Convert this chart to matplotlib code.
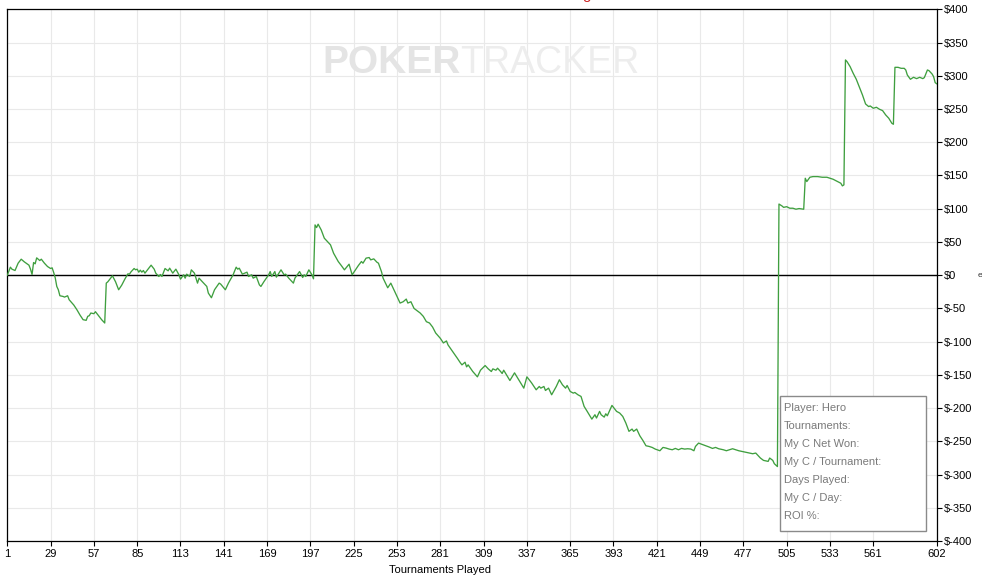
import matplotlib
matplotlib.use("Agg")
import matplotlib.pyplot as plt
from matplotlib.patches import Rectangle

# ---------------- data ----------------
tournaments = [1, 3, 4, 6, 8, 10, 12, 15, 16, 17, 18, 19, 20, 22, 23, 25, 27, 29, 30, 31,
               32, 33, 34, 35, 37, 38, 40, 41, 44, 46, 48, 50, 52, 53, 54, 55, 57, 58, 60, 62,
               64, 65, 66, 69, 71, 73, 75, 77, 79, 80, 81, 83, 84, 85, 86, 87, 88, 89, 90, 92,
               94, 96, 97, 99, 100, 101, 103, 105, 106, 108, 110, 112, 113, 115, 116, 117, 119, 120, 122, 124,
               125, 127, 130, 131, 133, 135, 138, 139, 142, 144, 147, 149, 150, 151, 153, 156, 157, 159, 160, 162,
               164, 165, 167, 170, 171, 172, 174, 175, 178, 180, 181, 183, 186, 187, 190, 192, 193, 194, 196, 198,
               199, 200, 201, 202, 204, 206, 208, 210, 212, 215, 217, 219, 222, 224, 228, 230, 231, 233, 235, 236,
               238, 240, 241, 243, 244, 247, 249, 252, 255, 257, 259, 260, 262, 264, 268, 270, 272, 274, 276, 278,
               281, 283, 285, 286, 289, 292, 294, 295, 297, 298, 299, 302, 305, 307, 310, 312, 314, 315, 317, 318,
               320, 321, 322, 326, 329, 332, 335, 337, 340, 343, 345, 346, 348, 349, 351, 353, 356, 358, 360, 362,
               363, 365, 367, 368, 370, 372, 374, 376, 379, 381, 382, 384, 385, 387, 388, 389, 392, 393, 395, 397,
               398, 399, 401, 403, 405, 406, 408, 410, 412, 414, 416, 418, 420, 423, 425, 427, 429, 431, 433, 435,
               437, 439, 441, 443, 445, 446, 448, 451, 453, 455, 457, 459, 461, 464, 466, 468, 470, 472, 474, 476,
               479, 481, 483, 485, 486, 488, 490, 493, 494, 496, 497, 499, 500, 502, 503, 505, 507, 509, 511, 513,
               516, 517, 518, 520, 522, 525, 528, 531, 535, 538, 540, 541, 542, 543, 544, 546, 548, 550, 552, 554,
               556, 558, 559, 561, 563, 565, 567, 569, 571, 573, 574, 575, 577, 579, 581, 582, 583, 585, 587, 589,
               591, 593, 594, 596, 597, 599, 600, 601, 602]
net_won = [0, 12, 9, 7, 18, 24, 20, 15, 9, 1, 19, 17, 26, 22, 24, 18, 13, 10, 11, 4,
           -4, -17, -22, -31, -32, -33, -31, -37, -45, -52, -60, -67, -68, -62, -61, -57, -58, -55, -61, -67,
           -72, -12, -10, -1, -10, -22, -15, -6, 2, 1.5, 5, 10, 8, 9, 4.5, 7.5, 4.5, 7, 3, 9,
           15, 9, 3, -2, 1, -2, 10, 6.5, 10.5, 3, 9, 0.5, -6, 0.5, -4.5, 1.5, -2, 8, 3, -12,
           -4.5, -9.6, -17, -27, -34, -22, -12, -13.5, -22, -12, 0.5, 12, 9, 10.5, 1.5, 4.5, -2, 0.5, -4.5, -2,
           -14.6, -17, -9.6, 0.5, 5.4, -2, 5.4, -3, 8, 0.5, 1.5, -4.5, -12, -4.5, 5.4, -3.5, 0.5, -2, 8, 0.5,
           -5.5, 75.6, 71.6, 76.7, 68, 55.6, 50.5, 45.6, 33, 20.5, 14.4, 8, 16.5, 0.5, 14.4, 20.5, 18, 25.6, 26.5, 23,
           24.5, 19.5, 18, 5, -4.5, -19, -12, -27, -42, -40, -36, -42, -40, -50, -57, -62, -70, -72, -78, -87,
           -95, -102, -99, -105, -115, -125, -132, -135, -131, -138, -135, -145, -153, -143, -136, -141, -145, -141, -143, -140,
           -145, -148, -143, -158.5, -147, -158.5, -170, -153, -162, -172.5, -167.5, -170, -167.5, -173.5, -170, -180, -167.5, -157.4, -165, -170,
           -166, -175, -177.5, -176.5, -180, -182.5, -197.5, -205, -216.6, -210, -215, -205, -210, -213.6, -208.6, -211.6, -196, -199, -205, -207.5,
           -210, -212.6, -222.6, -235, -231.6, -235, -231.6, -241.6, -248.7, -256.7, -257.7, -259.2, -261.7, -264.2, -259.2, -260.2, -261.7, -262.7, -260.7, -262.7,
           -260.7, -261.7, -261.2, -261.7, -264.2, -257.7, -252.7, -255.2, -256.7, -258.7, -260.7, -259.2, -261.2, -262.7, -264.2, -262.7, -261.2, -262.7, -264.2, -265.2,
           -266.7, -267.7, -268.7, -267.7, -270.2, -275.2, -278.7, -280.2, -275.2, -278.7, -283.7, -288, 107, 104, 102, 103, 100.7, 100.7, 99.2, 100.2,
           99.2, 145.8, 140.8, 147.3, 148.3, 148.3, 147.3, 147.3, 144.3, 140.8, 138.3, 134.3, 135.8, 323.8, 321.3, 313.8, 303.7, 294.7, 282.7, 271.1,
           257.6, 253.6, 254.6, 251.1, 252.6, 249.6, 247.6, 241.1, 236.1, 228.5, 227, 312.7, 312.7, 311.2, 311.2, 308.7, 301.2, 294.7, 297.7, 295.7,
           297.7, 295.7, 297.2, 308.7, 307.7, 302.7, 298.7, 289.7, 288]

x_ticks = [1, 29, 57, 85, 113, 141, 169, 197, 225, 253, 281, 309, 337, 365, 393,
           421, 449, 477, 505, 533, 561, 602]
y_ticks = [400, 350, 300, 250, 200, 150, 100, 50, 0, -50, -100, -150, -200, -250, -300, -350, -400]
y_labels = ["$" + str(v) for v in y_ticks]

info_lines = ["Player: Hero", "Tournaments:", "My C Net Won:", "My C / Tournament:",
              "Days Played:", "My C / Day:", "ROI %:"]
x_label = "Tournaments Played"

# ---------------- figure ----------------
plt.rcParams['font.family'] = ['Liberation Sans', 'DejaVu Sans']
W, H = 982, 578
fig = plt.figure(figsize=(W / 100, H / 100), dpi=100)
L, R, T, B = 7.3, 936.7, 9.3, 541.0
ax = fig.add_axes([L / W, 1 - B / H, (R - L) / W, (B - T) / H])

ax.set_xlim(1, 602)
ax.set_ylim(-400, 400)

for xt in x_ticks:
    ax.axvline(xt, color='#e9e9e9', lw=0.8, zorder=0)
for yt in y_ticks:
    ax.axhline(yt, color='#e9e9e9', lw=0.8, zorder=0)
ax.axhline(0, color='black', lw=1.0, zorder=2)

ax.plot(tournaments, net_won, color='#3f9f3f', lw=0.95, zorder=3)

ax.set_xticks(x_ticks)
ax.set_xticklabels([str(v) for v in x_ticks], fontsize=8)
ax.yaxis.tick_right()
ax.set_yticks(y_ticks)
ax.set_yticklabels(y_labels, fontsize=8)
ax.tick_params(axis='both', direction='out', length=3.5, width=0.8, color='black', pad=2)
for s in ax.spines.values():
    s.set_color('black')
    s.set_linewidth(0.9)

fig.text(440 / W, 1 - 570 / H, x_label, fontsize=8, ha='center', va='center')

# watermark
fig.text(322 / W, 1 - 73 / H, "POKER", fontsize=28, fontweight='bold', color='#e4e4e4',
         ha='left', va='baseline', zorder=1)
fig.text(460 / W, 1 - 73 / H, "TRACKER", fontsize=27, color='#ededed',
         ha='left', va='baseline', zorder=1)

# info box
bx0, bx1, by0, by1 = 780, 926, 396, 531
box = Rectangle((bx0 / W, 1 - by1 / H), (bx1 - bx0) / W, (by1 - by0) / H,
                transform=fig.transFigure, facecolor='white', edgecolor='#8a8a8a',
                lw=1.0, zorder=10)
fig.patches.append(box)
for i, line in enumerate(info_lines):
    fig.text(784 / W, 1 - (408 + 18 * i) / H, line, fontsize=8, color='#7a7a7a',
             ha='left', va='center', zorder=11)

# cut-off fragments at the edges
fig.text(587 / W, 1 + 1 / H, "g", fontsize=11, color='#cc2222', ha='center', va='baseline')
fig.text(980 / W, 1 - 275 / H, "e", fontsize=6, color='#333333', ha='center', va='center')

fig.savefig("out.png", dpi=100)
